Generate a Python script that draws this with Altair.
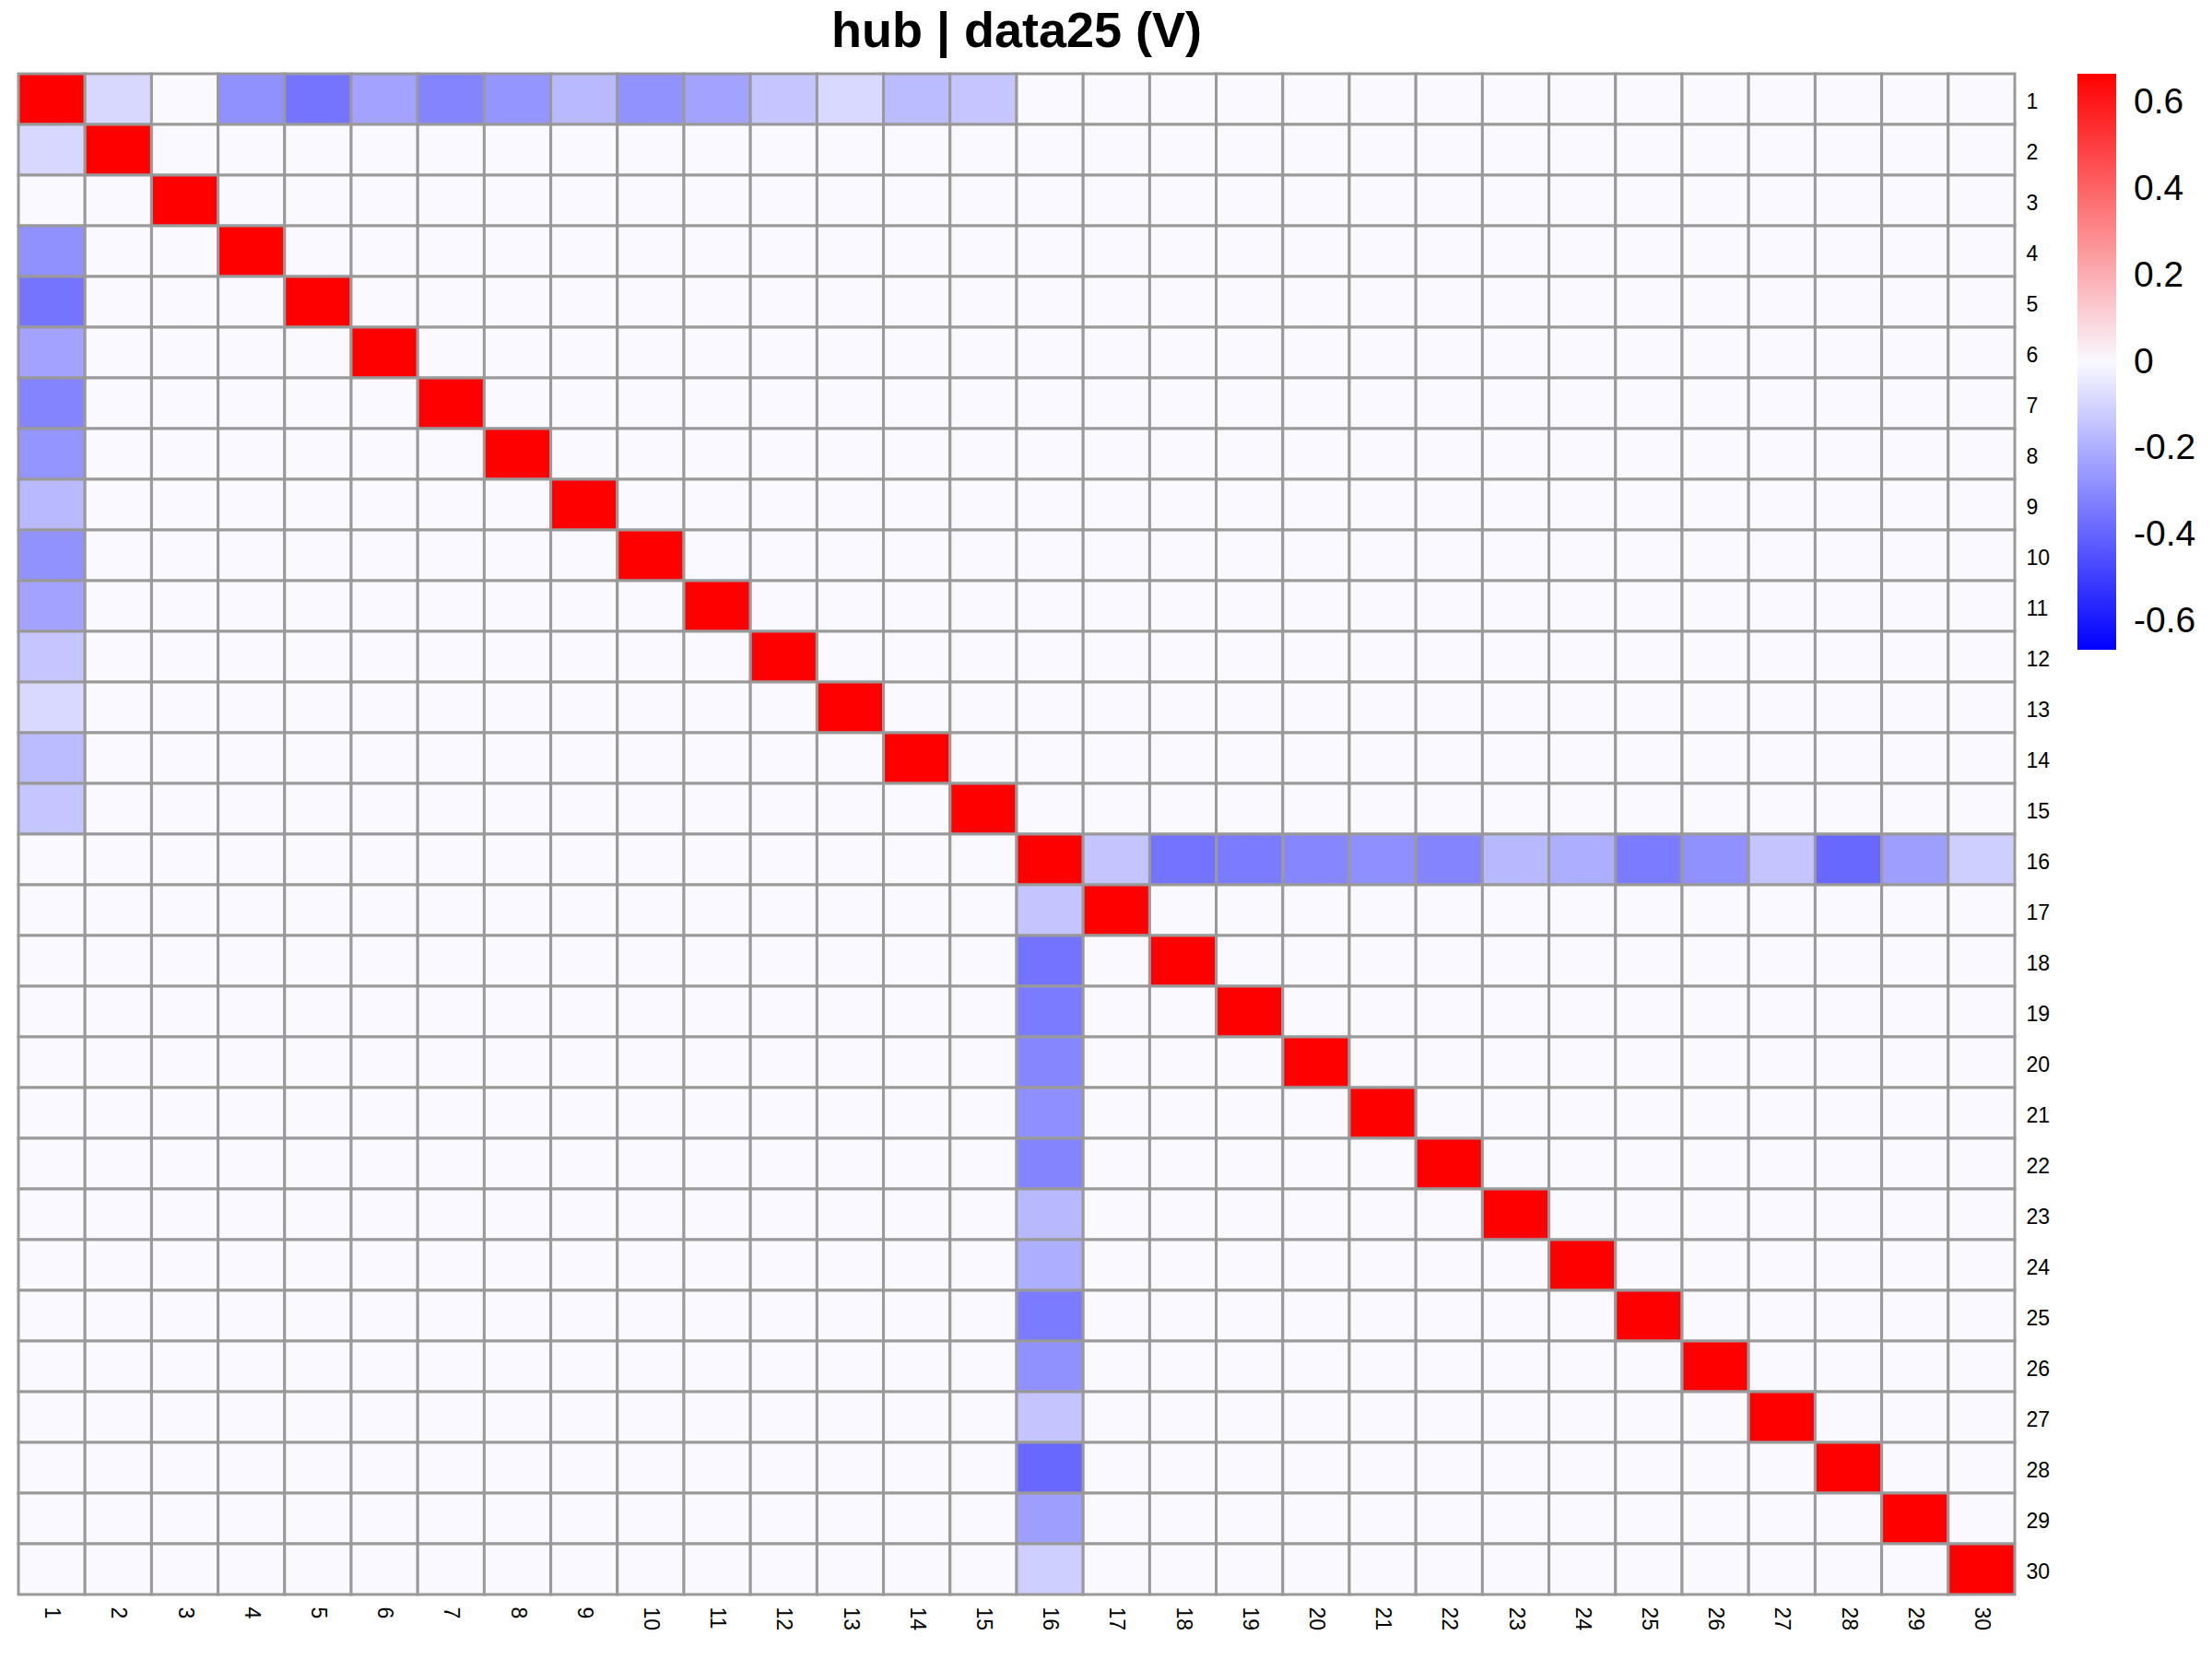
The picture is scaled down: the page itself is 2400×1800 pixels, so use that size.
import altair as alt
import pandas as pd

# Row / column labels of the 30x30 matrix
labels = [str(i) for i in range(1, 31)]

# Value on the diagonal (top of colour scale)
diag_value = 0.667

# Hub 1: partners and values (row 1 / column 1)
hub1_partners = [2, 3, 4, 5, 6, 7, 8, 9, 10, 11, 12, 13, 14, 15]
hub1_values = [-0.088, 0.0, -0.281, -0.356, -0.230, -0.313, -0.268, -0.171,
               -0.276, -0.230, -0.139, -0.086, -0.166, -0.139]

# Hub 16: partners and values (row 16 / column 16)
hub16_partners = [17, 18, 19, 20, 21, 22, 23, 24, 25, 26, 27, 28, 29, 30]
hub16_values = [-0.142, -0.359, -0.338, -0.308, -0.284, -0.313, -0.174, -0.201,
                -0.338, -0.281, -0.142, -0.388, -0.244, -0.113]

legend_ticks = [-0.6, -0.4, -0.2, 0, 0.2, 0.4, 0.6]

lookup = {}
for hub, partners, values in [(1, hub1_partners, hub1_values),
                              (16, hub16_partners, hub16_values)]:
    for p, v in zip(partners, values):
        lookup[(hub, p)] = v
        lookup[(p, hub)] = v

records = []
for i in range(1, 31):
    for j in range(1, 31):
        val = diag_value if i == j else lookup.get((i, j), 0.0)
        records.append({"row": str(i), "col": str(j), "value": val})
df = pd.DataFrame(records)

FONT = "Liberation Sans"

chart = alt.Chart(df).mark_rect(stroke="#999999", strokeWidth=3).encode(
    x=alt.X("col:O", sort=labels, title=None,
            axis=alt.Axis(orient="bottom", labelAngle=90, labelFontSize=23,
                          labelPadding=13, ticks=False, domain=False,
                          labelFont=FONT, labelColor="black", grid=False)),
    y=alt.Y("row:O", sort=labels, title=None,
            axis=alt.Axis(orient="right", labelFontSize=23, labelPadding=12,
                          labelOffset=3, ticks=False, domain=False,
                          labelFont=FONT, labelColor="black", grid=False)),
    color=alt.Color("value:Q",
                    scale=alt.Scale(domain=[-0.667, 0, 0.667],
                                    range=["#0000FF", "#F9F9FF", "#FF0000"],
                                    interpolate="rgb", clamp=True),
                    legend=alt.Legend(orient="none", legendX=2234, legendY=0,
                                      direction="vertical", title=None,
                                      gradientLength=625, gradientThickness=42,
                                      gradientStrokeWidth=0,
                                      labelFontSize=39, labelOffset=19,
                                      labelFont=FONT, labelColor="black",
                                      values=legend_ticks,
                                      labelExpr="'' + datum.value")),
).properties(
    width=2166,
    height=1650,
    title=alt.TitleParams("hub | data25 (V)", fontSize=54, font=FONT,
                          fontWeight="bold", anchor="middle", offset=17,
                          color="black"),
    autosize="none",
    padding={"left": 12, "top": 72, "right": 200, "bottom": 62},
).configure_view(stroke=None).configure(background="white")

chart.save("out.html", embed_options={"renderer": "svg", "actions": False})
